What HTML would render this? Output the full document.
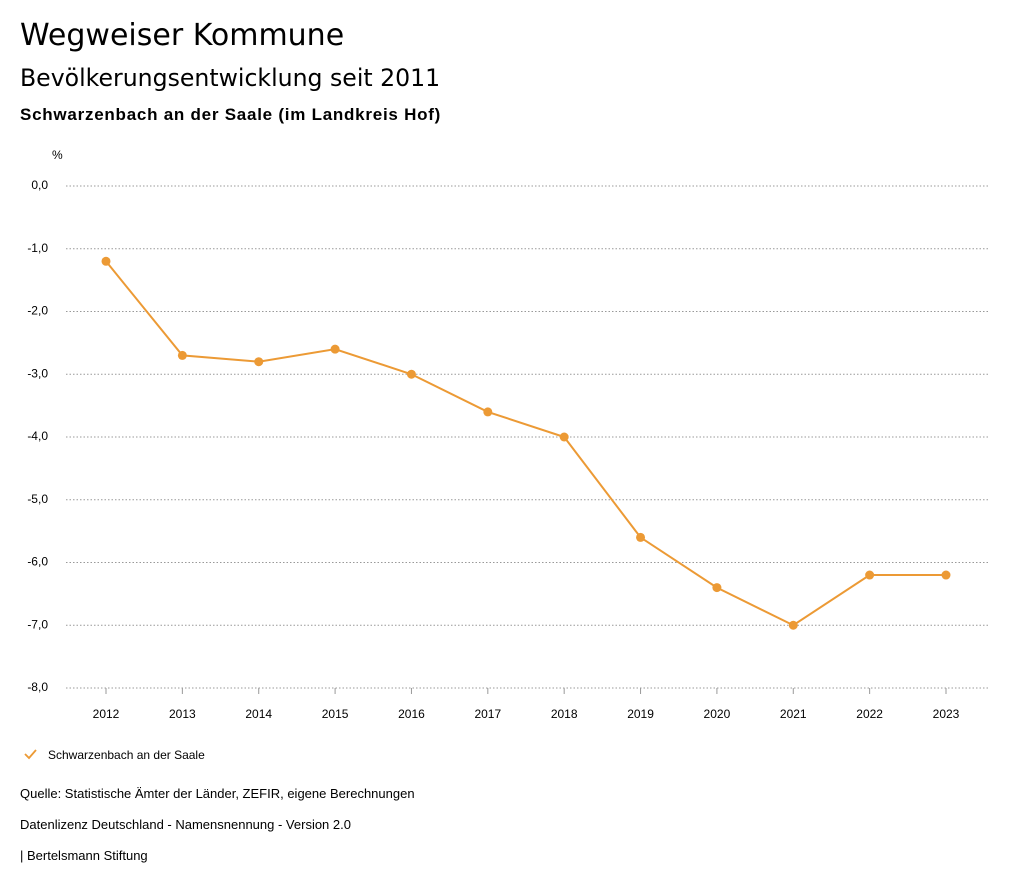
<!DOCTYPE html>
<html><head><meta charset="utf-8"><style>
body{margin:0;background:#fff;font-family:"Liberation Sans",sans-serif;color:#000;width:1024px;height:888px;position:relative;overflow:hidden}
.t{position:absolute;left:20px;white-space:nowrap}
</style></head><body>
<div class="t" style="top:18px;font-size:30px;font-family:'DejaVu Sans',sans-serif">Wegweiser Kommune</div>
<div class="t" style="top:64px;font-size:23.6px;font-family:'DejaVu Sans',sans-serif">Bevölkerungsentwicklung seit 2011</div>
<div class="t" style="top:105px;font-size:17px;font-weight:bold;letter-spacing:0.75px">Schwarzenbach an der Saale (im Landkreis Hof)</div>
<svg id="c" width="1024" height="888" style="position:absolute;left:0;top:0" font-family="Liberation Sans, sans-serif"></svg>
<div class="t" style="top:786px;font-size:13px">Quelle: Statistische Ämter der Länder, ZEFIR, eigene Berechnungen</div>
<div class="t" style="top:817px;font-size:13px">Datenlizenz Deutschland - Namensnennung - Version 2.0</div>
<div class="t" style="top:848px;font-size:13px">| Bertelsmann Stiftung</div>
<script>
const years=["2012","2013","2014","2015","2016","2017","2018","2019","2020","2021","2022","2023"];
const values=[-1.2,-2.7,-2.8,-2.6,-3.0,-3.6,-4.0,-5.6,-6.4,-7.0,-6.2,-6.2];
const yTicks=[0,-1,-2,-3,-4,-5,-6,-7,-8];
const NS="http://www.w3.org/2000/svg";
const svg=document.getElementById('c');
const x=i=>106+i*(946-106)/(years.length-1);
const y=v=>186+(0-v)*(688-186)/8;
function mk(t,a){const e=document.createElementNS(NS,t);for(const k in a)e.setAttribute(k,a[k]);svg.appendChild(e);return e;}
const u=mk('text',{x:52,y:159,'font-size':12});u.textContent='%';


yTicks.forEach(v=>{
 const l=mk('line',{x1:66,x2:990,y1:y(v),y2:y(v),stroke:'#999','stroke-dasharray':'1.5,2','stroke-width':1});
 
 
 const t=mk('text',{x:48,y:y(v)+3,'font-size':12,'text-anchor':'end'});
 t.textContent=v.toFixed(1).replace('.',',');
 
 
});
years.forEach((yr,i)=>{
 const tk=mk('line',{x1:x(i),x2:x(i),y1:688,y2:694,stroke:'#999'});
 
 
 const t=mk('text',{x:x(i),y:718,'font-size':12,'text-anchor':'middle'});
 t.textContent=yr;
 
 
});
const p=mk('polyline',{points:values.map((v,i)=>x(i)+','+y(v)).join(' '),fill:'none',stroke:'#ec9a35','stroke-width':2});


values.forEach((v,i)=>{
 const c=mk('circle',{cx:x(i),cy:y(v),r:4.5,fill:'#ec9a35'});
 
 
});
const lg=mk('path',{d:'M25 754 L29 758 L36 750',fill:'none',stroke:'#ec9a35','stroke-width':1.8});


const lt=mk('text',{x:48,y:759,'font-size':12});
lt.textContent='Schwarzenbach an der Saale';


</script>
</body></html>
